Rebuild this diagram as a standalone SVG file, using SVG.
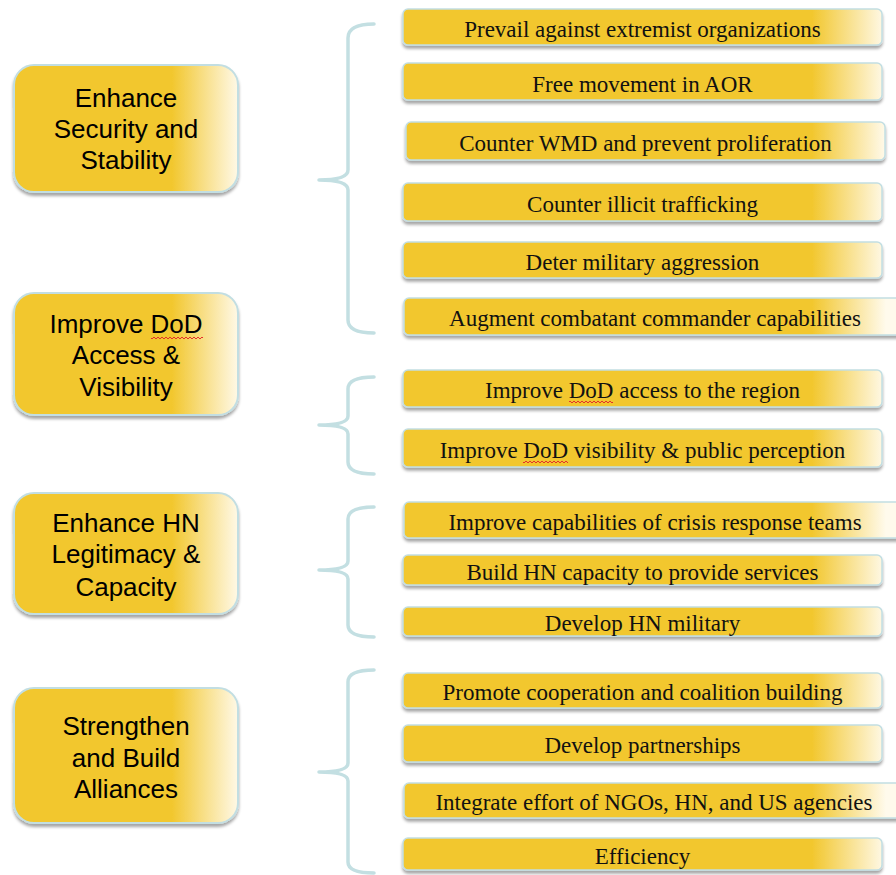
<svg xmlns="http://www.w3.org/2000/svg" width="896" height="875" viewBox="0 0 896 875">
<defs>
<linearGradient id="gl" gradientUnits="userSpaceOnUse" x1="172" y1="0" x2="240" y2="0">
<stop offset="0" stop-color="#F2C72E"/><stop offset="1" stop-color="#FFFAEC"/>
</linearGradient>
<linearGradient id="gr" gradientUnits="userSpaceOnUse" x1="812" y1="0" x2="886" y2="0">
<stop offset="0" stop-color="#F2C72E"/><stop offset="1" stop-color="#FFFAEC"/>
</linearGradient>
<filter id="sh" x="-5%" y="-20%" width="110%" height="150%">
<feDropShadow dx="0" dy="3" stdDeviation="1.8" flood-color="#000" flood-opacity="0.35"/>
</filter>
<pattern id="sq" patternUnits="userSpaceOnUse" width="4" height="4">
<path d="M0,3 L2,1 L4,3" fill="none" stroke="#E4302B" stroke-width="1"/>
</pattern>
</defs>
<style>
.lb{fill:url(#gl);stroke:#C2DEE2;stroke-width:2;filter:url(#sh)}
.rb{fill:url(#gr);stroke:#C2DEE2;stroke-width:1.5;filter:url(#sh)}
.lt{font-family:"Liberation Sans",Arial,sans-serif;font-size:26px;fill:#000;text-anchor:middle}
.rt{font-family:"Liberation Serif","Times New Roman",serif;font-size:23px;fill:#111;text-anchor:middle}
.br{fill:none;stroke:#C3DFE2;stroke-width:3.5;stroke-linecap:round;stroke-linejoin:round}
</style>
<rect width="896" height="875" fill="#fff"/>

<g id="connectors">
<path class="br" d="M374,24 Q348,24 348,38 L348,170 Q348,180 319,180 Q348,180 348,190 L348,320 Q348,333 374,333"/>
<path class="br" d="M374,377 Q348,377 348,389 L348,416 Q348,425 319,425 Q348,425 348,434 L348,462 Q348,474 374,474"/>
<path class="br" d="M374,507 Q348,507 348,519 L348,561 Q348,570 319,570 Q348,570 348,579 L348,625 Q348,637 374,637"/>
<path class="br" d="M374,670 Q348,670 348,682 L348,763 Q348,772 319,772 Q348,772 348,781 L348,862 Q348,873 374,873"/>
</g>

<g id="goal1"><rect class="lb" x="14" y="65" width="224" height="127" rx="20"/>
<text class="lt" x="126" y="107">Enhance</text><text class="lt" x="126" y="138">Security and</text><text class="lt" x="126" y="169">Stability</text></g>
<g id="goal2"><rect class="lb" x="14" y="293" width="224" height="122" rx="20"/>
<text class="lt" x="126" y="333">Improve DoD</text><text class="lt" x="126" y="364">Access &amp;</text><text class="lt" x="126" y="396">Visibility</text>
<rect x="151" y="336" width="52" height="4" fill="url(#sq)"/></g>
<g id="goal3"><rect class="lb" x="14" y="493" width="224" height="121" rx="20"/>
<text class="lt" x="126" y="532">Enhance HN</text><text class="lt" x="126" y="563">Legitimacy &amp;</text><text class="lt" x="126" y="596">Capacity</text></g>
<g id="goal4"><rect class="lb" x="14" y="688" width="224" height="135" rx="20"/>
<text class="lt" x="126" y="735">Strengthen</text><text class="lt" x="126" y="767">and Build</text><text class="lt" x="126" y="798">Alliances</text></g>

<g id="o1"><rect class="rb" x="403" y="9" width="479" height="36" rx="5"/><text class="rt" x="642.5" y="37">Prevail against extremist organizations</text></g>
<g id="o2"><rect class="rb" x="403" y="63" width="479" height="37" rx="5"/><text class="rt" x="642.5" y="91.5">Free movement in AOR</text></g>
<g id="o3"><rect class="rb" x="406" y="122" width="479" height="38" rx="5"/><text class="rt" x="645.5" y="151">Counter WMD and prevent proliferation</text></g>
<g id="o4"><rect class="rb" x="403" y="183" width="479" height="38" rx="5"/><text class="rt" x="642.5" y="212">Counter illicit trafficking</text></g>
<g id="o5"><rect class="rb" x="403" y="242" width="479" height="36" rx="5"/><text class="rt" x="642.5" y="270">Deter military aggression</text></g>
<g id="o6"><rect class="rb" x="404" y="298" width="502" height="37" rx="5"/><text class="rt" x="655" y="326">Augment combatant commander capabilities</text></g>
<g id="o7"><rect class="rb" x="403" y="370" width="479" height="37" rx="5"/><text class="rt" x="642.5" y="398">Improve DoD access to the region</text>
<rect x="569" y="401" width="44" height="4" fill="url(#sq)"/></g>
<g id="o8"><rect class="rb" x="403" y="429" width="479" height="38" rx="5"/><text class="rt" x="642.5" y="457.5">Improve DoD visibility &amp; public perception</text>
<rect x="523" y="460.5" width="45" height="4" fill="url(#sq)"/></g>
<g id="o9"><rect class="rb" x="404" y="502" width="502" height="36" rx="5"/><text class="rt" x="655" y="530">Improve capabilities of crisis response teams</text></g>
<g id="o10"><rect class="rb" x="403" y="555" width="479" height="30" rx="5"/><text class="rt" x="642.5" y="579.5">Build HN capacity to provide services</text></g>
<g id="o11"><rect class="rb" x="403" y="607" width="479" height="29" rx="5"/><text class="rt" x="642.5" y="631">Develop HN military</text></g>
<g id="o12"><rect class="rb" x="403" y="673" width="479" height="35" rx="5"/><text class="rt" x="642.5" y="700">Promote cooperation and coalition building</text></g>
<g id="o13"><rect class="rb" x="403" y="725" width="479" height="37" rx="5"/><text class="rt" x="642.5" y="753">Develop partnerships</text></g>
<g id="o14"><rect class="rb" x="404" y="783" width="502" height="35" rx="5"/><text class="rt" x="654" y="810">Integrate effort of NGOs, HN, and US agencies</text></g>
<g id="o15"><rect class="rb" x="403" y="838" width="479" height="32" rx="5"/><text class="rt" x="642.5" y="863.5">Efficiency</text></g>
</svg>
